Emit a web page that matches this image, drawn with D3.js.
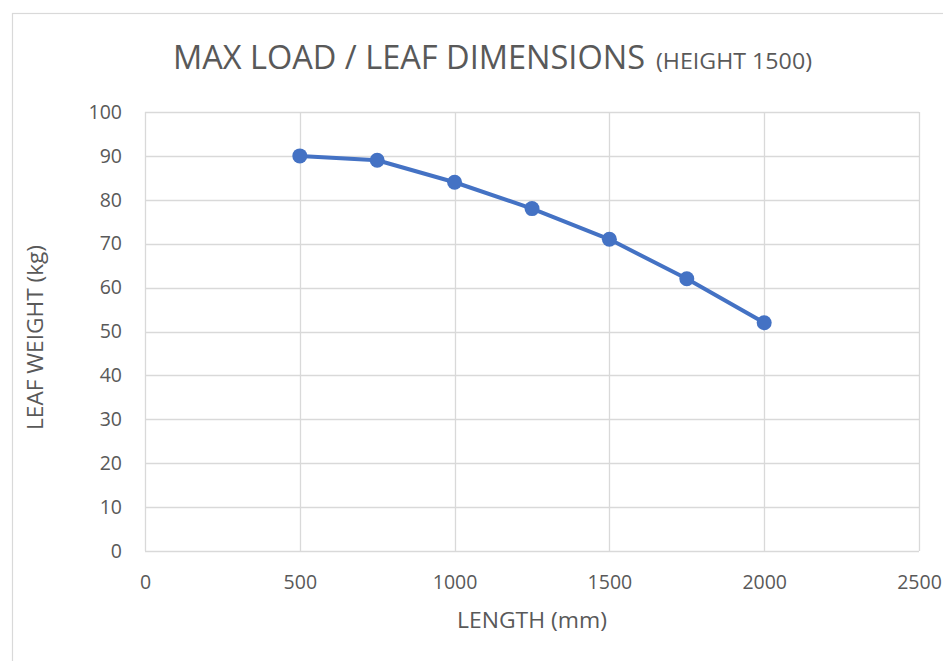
<!DOCTYPE html>
<html><head><meta charset="utf-8">
<script src="https://cdn.jsdelivr.net/npm/d3@7"></script>
<style>body{margin:0;background:#fff;}svg{display:block;}</style>
</head><body>
<script>
const lengths = [500, 750, 1000, 1250, 1500, 1750, 2000];
const weights = [90, 89, 84, 78, 71, 62, 52];
const xTicks = [0, 500, 1000, 1500, 2000, 2500];
const yTicks = [0, 10, 20, 30, 40, 50, 60, 70, 80, 90, 100];
const titleMain = "MAX LOAD / LEAF DIMENSIONS";
const titleSub = "(HEIGHT 1500)";
const xTitle = "LENGTH (mm)";
const yTitle = "LEAF WEIGHT (kg)";

const W = 943, H = 661;
const svg = d3.select("body").append("svg").attr("width", W).attr("height", H);
svg.append("rect").attr("x", 12.5).attr("y", 13.5).attr("width", 1000).attr("height", 1000)
  .attr("fill", "#fff").attr("stroke", "#d9d9d9").attr("stroke-width", 1.2);

const x = d3.scaleLinear().domain([0, 2500]).range([145, 919]);
const y = d3.scaleLinear().domain([0, 100]).range([551, 112]);
const grid = "#d9d9d9", txt = "#595959";
const sans = "'Open Sans', sans-serif";

// gridlines
svg.append("g").selectAll("line").data(yTicks).join("line")
  .attr("x1", x(0)).attr("x2", x(2500)).attr("y1", d => Math.round(y(d)) + 0.5).attr("y2", d => Math.round(y(d)) + 0.5)
  .attr("stroke", grid).attr("stroke-width", 1.3);
svg.append("g").selectAll("line").data(xTicks).join("line")
  .attr("y1", y(0)).attr("y2", y(100)).attr("x1", d => Math.round(x(d)) + 0.5).attr("x2", d => Math.round(x(d)) + 0.5)
  .attr("stroke", grid).attr("stroke-width", 1.3);

// axes via d3
const yAxis = svg.append("g").attr("transform", `translate(${x(0)},0)`)
  .call(d3.axisLeft(y).tickValues(yTicks).tickFormat(d3.format("d")).tickSize(0).tickPadding(23));
yAxis.select(".domain").remove();
yAxis.selectAll("text").attr("fill", txt).style("font-family", sans).style("font-size", "19.5px");

const xAxis = svg.append("g").attr("transform", `translate(0,${y(0)})`)
  .call(d3.axisBottom(x).tickValues(xTicks).tickFormat(d3.format("d")).tickSize(0).tickPadding(24));
xAxis.select(".domain").remove();
xAxis.selectAll("text").attr("fill", txt).style("font-family", sans).style("font-size", "19.5px");

// titles
svg.append("text").attr("x", 173).attr("y", 69).attr("fill", txt).style("font-family", sans)
  .style("font-size", "33px").attr("textLength", 472).attr("lengthAdjust", "spacingAndGlyphs").text(titleMain);
svg.append("text").attr("x", 656).attr("y", 69).attr("fill", txt).style("font-family", sans)
  .style("font-size", "21px").attr("textLength", 156).attr("lengthAdjust", "spacingAndGlyphs").text(titleSub);

svg.append("text").attr("x", 457).attr("y", 628).attr("fill", txt).style("font-family", sans)
  .style("font-size", "21.5px").attr("textLength", 150).attr("lengthAdjust", "spacingAndGlyphs").text(xTitle);

svg.append("text").attr("transform", `translate(43,${y(50) + 6}) rotate(-90)`).attr("text-anchor", "middle")
  .attr("fill", txt).style("font-family", sans).style("font-size", "21px")
  .attr("textLength", 185).attr("lengthAdjust", "spacingAndGlyphs").text(yTitle);

// series
const data = lengths.map((l, i) => ({l, w: weights[i]}));
const line = d3.line().x(d => x(d.l)).y(d => y(d.w)).curve(d3.curveLinear);
svg.append("path").datum(data).attr("d", line).attr("fill", "none")
  .attr("stroke", "#4472C4").attr("stroke-width", 4).attr("stroke-linejoin", "round");
svg.append("g").selectAll("circle").data(data).join("circle")
  .attr("cx", d => x(d.l)).attr("cy", d => y(d.w)).attr("r", 7.5).attr("fill", "#4472C4");
</script>
</body></html>
